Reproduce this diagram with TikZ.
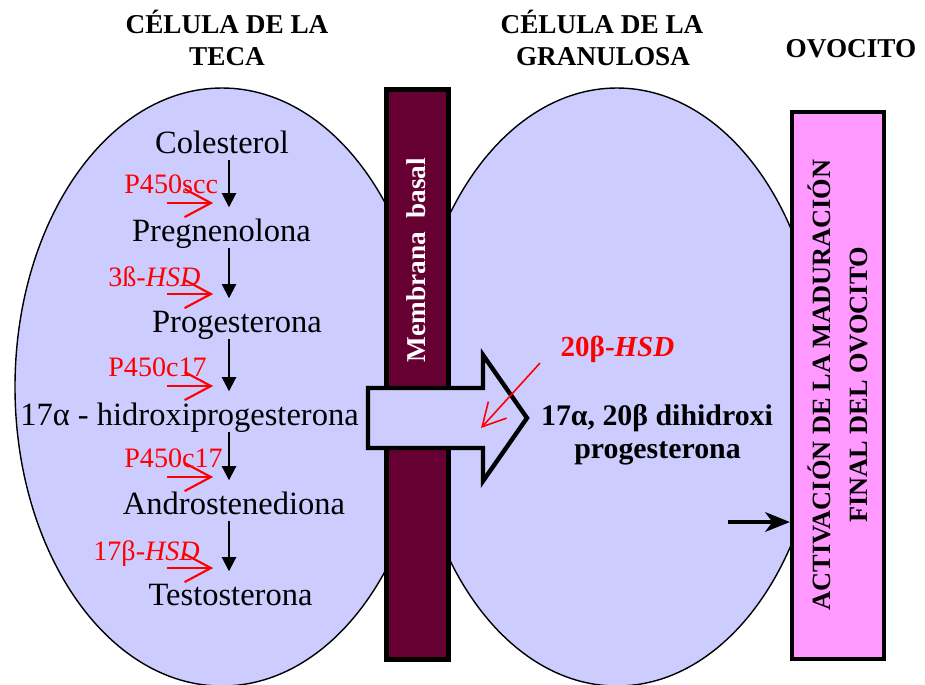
\documentclass[tikz,border=0pt]{standalone}
\usepackage{fontspec}
\setmainfont{Liberation Serif}
\usetikzlibrary{arrows.meta, positioning}
\definecolor{cellblue}{HTML}{CCCCFF}
\definecolor{membcol}{HTML}{660033}
\definecolor{oocpink}{HTML}{FF99FF}

\begin{document}
\begin{tikzpicture}[x=0.02cm, y=-0.02cm,
    cell/.style={draw=black, fill=cellblue, line width=0.8pt},
    metab/.style={font=\fontsize{18.5}{21}\selectfont, anchor=base, inner sep=0pt, text height=19pt, text depth=4pt},
    enz/.style={red, font=\fontsize{16}{18}\selectfont, anchor=base west, inner sep=0pt},
    convert/.style={line width=1.1pt, -{Triangle[length=8pt,width=8pt]}},
    enzarrow/.style={red, line width=1.2pt, shorten >=9pt, -{Straight Barb[length=15pt,width=16pt]}},
    header/.style={font=\bfseries\fontsize{15.5}{18}\selectfont, anchor=base, inner sep=0pt}]
    \useasboundingbox (0,0) rectangle (925,684);

    % cells
    \draw[cell] (222,387) ellipse [x radius=207, y radius=299];
    \draw[cell] (617,387) ellipse [x radius=205, y radius=299];

    % membrane and transfer arrow
    \node[draw=black, line width=2.8pt, fill=membcol, minimum width=1.24cm, minimum height=11.4cm, inner sep=0pt] (membrana) at (417.5,374.5) {};
    \node[rotate=90, white, font=\bfseries\fontsize{15.5}{18}\selectfont] (memlabel) at (416,260) {Membrana\ \ basal};
    \draw[line width=2.5pt, fill=cellblue, line join=miter] (368,388) -- (483,388) -- (483,355) -- (527,418) -- (483,481) -- (483,448) -- (368,448) -- cycle;

    \coordinate (hsdstart) at (540,363);
    \coordinate (hsdend) at (481,428);
    \draw[red, line width=0.9pt, -{Straight Barb[length=13pt,width=14pt]}] (hsdstart) -- (hsdend);

    % oocyte
    \node[draw=black, line width=2.3pt, fill=oocpink, minimum width=1.84cm, minimum height=10.94cm, inner sep=0pt] (ovocito) at (838,385.5) {};
    \node[rotate=90, align=center, font=\bfseries\fontsize{15}{21}\selectfont] (ovlabel) at (838,385) {ACTIVACIÓN DE LA MADURACIÓN\\FINAL DEL OVOCITO};
    \coordinate (actstart) at (728,522);
    \draw[line width=2.5pt, -{Stealth[length=14pt,width=11pt,inset=4pt]}] (actstart) -- (actstart -| ovocito.west);

    % headers
    \node[header] (teca1) at (227,33) {CÉLULA DE LA};
    \node[header] (teca2) at (227,65) {TECA};
    \node[header] (gran1) at (602,33) {CÉLULA DE LA};
    \node[header] (gran2) at (603,65) {GRANULOSA};
    \node[header] (ovhead) at (851,57) {OVOCITO};

    % steroid chain
    \node[metab] (c1) at (222,153) {Colesterol};
    \node[metab] (c2) at (221.5,241) {Pregnenolona};
    \node[metab] (c3) at (237,332) {Progesterona};
    \node[metab] (c4) at (189.5,425) {17α - hidroxiprogesterona};
    \node[metab] (c5) at (234,514) {Androstenediona};
    \node[metab] (c6) at (230.5,605) {Testosterona};

    \coordinate (ax) at (229,0);
    \draw[convert] (c1.south -| ax) -- (c2.north -| ax);
    \draw[convert] (c2.south -| ax) -- (c3.north -| ax);
    \draw[convert] (c3.south -| ax) -- (c4.north -| ax);
    \draw[convert] (c4.south -| ax) -- (c5.north -| ax);
    \draw[convert] (c5.south -| ax) -- (c6.north -| ax);

    % enzymes
    \node[enz] (z1) at (124,193) {P450scc};
    \node[enz] (z2) at (108,286) {3ß-\textit{HSD}};
    \node[enz] (z3) at (108,376) {P450c17};
    \node[enz] (z4) at (124,467) {P450c17};
    \node[enz] (z5) at (93,560) {17β-\textit{HSD}};

    \coordinate (e1) at (167,203);
    \coordinate (e2) at (167,294);
    \coordinate (e3) at (167,386);
    \coordinate (e4) at (167,477);
    \coordinate (e5) at (167,568);
    \draw[enzarrow] (e1) -- (e1 -| ax);
    \draw[enzarrow] (e2) -- (e2 -| ax);
    \draw[enzarrow] (e3) -- (e3 -| ax);
    \draw[enzarrow] (e4) -- (e4 -| ax);
    \draw[enzarrow] (e5) -- (e5 -| ax);

    % granulosa product
    \node[red, font=\bfseries\fontsize{16.5}{20}\selectfont, anchor=base, inner sep=0pt] (hsd20) at (617.5,356) {20β-\textit{HSD}};
    \node[font=\bfseries\fontsize{17}{20}\selectfont, anchor=base, inner sep=0pt] (dihid1) at (657,425) {17α, 20β dihidroxi};
    \node[font=\bfseries\fontsize{17}{20}\selectfont, anchor=base, inner sep=0pt] (dihid2) at (657.5,458) {progesterona};
\end{tikzpicture}
\end{document}
